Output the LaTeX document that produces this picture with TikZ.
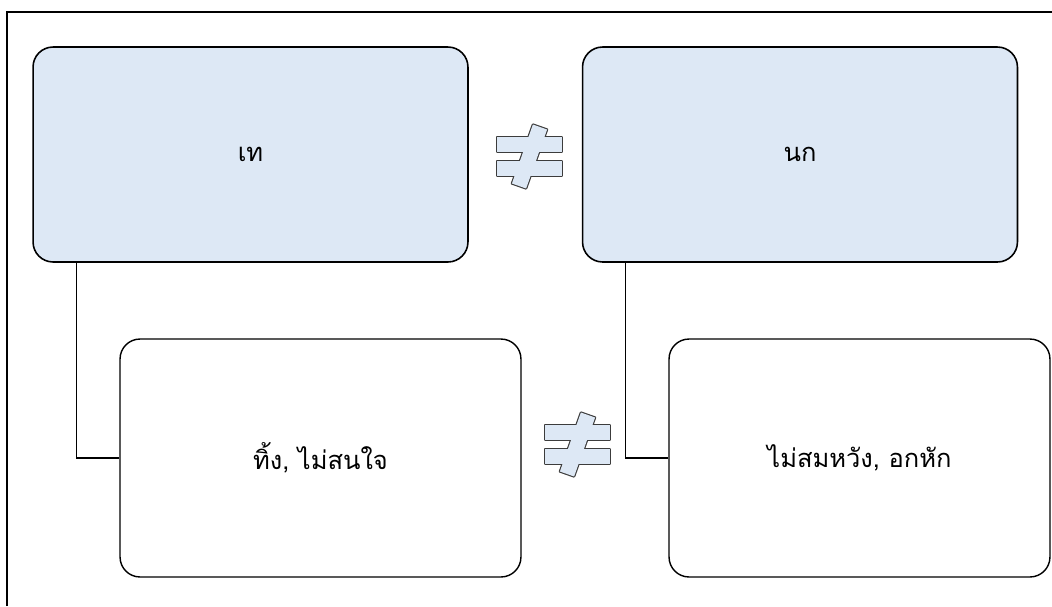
\documentclass[tikz,border=0pt]{standalone}
\usepackage{fontspec}
\newfontfamily\thaifont[Script=Thai]{Loma}

\definecolor{boxblue}{RGB}{221,232,245}
\definecolor{signline}{RGB}{60,60,60}

\tikzset{
  topbox/.style={draw=black, line width=0.9pt, fill=boxblue, rounded corners=0.4cm,
    minimum width=8.7cm, minimum height=4.3cm, font=\thaifont\fontsize{14.5}{17}\selectfont},
  lowbox/.style={draw=black, line width=0.8pt, fill=white, rounded corners=0.4cm,
    minimum height=4.76cm, font=\thaifont\fontsize{14.5}{17}\selectfont},
  link/.style={draw=black, line width=0.6pt},
  signedge/.style={draw=signline, line width=1.3pt, line join=round},
  signfill/.style={fill=boxblue}
}

% not-equal sign, centre in pixel units
\newcommand{\neqmark}[2]{%
  \begin{scope}[shift={(#1,#2)}]
    \foreach \look in {signedge, signfill} {
      \path[\look] (-32.5,-19.5) rectangle (32.5,-4.5);
      \path[\look] (-32.5,4.5) rectangle (32.5,19.5);
      \path[\look] (3.4,-32) -- (17.6,-27) -- (-3.4,32) -- (-17.6,27) -- cycle;
    }
  \end{scope}}

\begin{document}
\begin{tikzpicture}[x=0.02cm, y=-0.02cm]
    \useasboundingbox (0,0) rectangle (1052,606);

    % Outer frame
    \draw[line width=1.2pt] (7,606) -- (7,12) -- (1052,12);

    % Upper boxes
    \node[topbox] (tae) at (250.5,154.5) {เท};
    \node[topbox] (nok) at (800,154.5) {นก};

    % Lower boxes
    \node[lowbox, minimum width=8.02cm] (ting) at (320.5,458) {ทิ้ง, ไม่สนใจ};
    \node[lowbox, minimum width=7.62cm] (wang) at (859.5,458) {ไม่สมหวัง, อกหัก};

    % Links
    \draw[link] ([xshift=0.88cm]tae.south west) |- (ting.west);
    \draw[link] ([xshift=0.88cm]nok.south west) |- (wang.west);

    % Not-equal signs
    \neqmark{529.5}{156.5}
    \neqmark{577.5}{444.5}
\end{tikzpicture}
\end{document}
